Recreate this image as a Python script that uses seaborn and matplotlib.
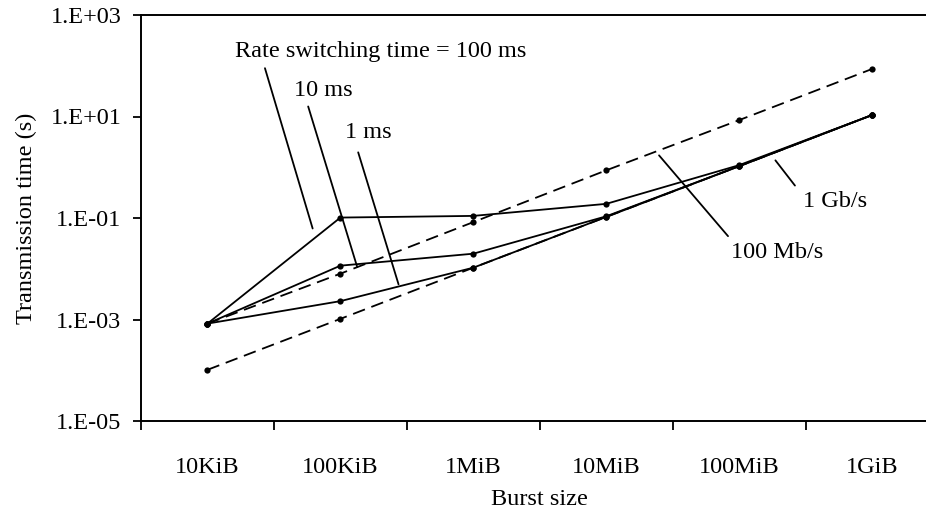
import numpy as np
import pandas as pd
import matplotlib
matplotlib.use("Agg")
import matplotlib.pyplot as plt
import seaborn as sns
from matplotlib.ticker import FixedLocator, FixedFormatter, NullFormatter

# ---------------- data ----------------
categories = ["10KiB", "100KiB", "1MiB", "10MiB", "100MiB", "1GiB"]
t_switch_100ms = [8.3e-4, 0.102, 0.110, 0.19, 1.10, 10.7]
t_switch_10ms = [8.3e-4, 0.0115, 0.0198, 0.108, 1.05, 10.7]
t_switch_1ms = [8.3e-4, 0.0023, 0.0105, 0.105, 1.05, 10.7]
t_100mbps = [8.3e-4, 0.0080, 0.083, 0.87, 8.5, 86.5]
t_1gbps = [1.02e-4, 1.03e-3, 0.0105, 0.105, 1.05, 10.7]
ytick_vals = [1e-5, 1e-3, 1e-1, 1e1, 1e3]
ytick_labels = ["1.E-05", "1.E-03", "1.E-01", "1.E+01", "1.E+03"]

series = {
    "100 ms": t_switch_100ms,
    "10 ms": t_switch_10ms,
    "1 ms": t_switch_1ms,
    "100 Mb/s": t_100mbps,
    "1 Gb/s": t_1gbps,
}
rows = []
for name, vals in series.items():
    for i, v in enumerate(vals):
        rows.append({"series": name, "pos": i, "time": v})
df = pd.DataFrame(rows)

# ---------------- style ----------------
sns.set_theme(style="ticks")
plt.rcParams["font.family"] = ["Liberation Serif", "DejaVu Serif"]
plt.rcParams.update({
    "text.color": "black", "axes.labelcolor": "black",
    "xtick.color": "black", "ytick.color": "black",
    "axes.edgecolor": "black", "font.size": 17.5,
})
FS = 17.5

fig = plt.figure(figsize=(9.26, 5.16), dpi=100)
ax = fig.add_axes([141 / 926, 95 / 516, 797.6 / 926, 406 / 516])
ax.set_yscale("log")

palette = {k: "black" for k in series}
dashes = {"100 ms": "", "10 ms": "", "1 ms": "",
          "100 Mb/s": (7, 3.8), "1 Gb/s": (7, 3.8)}
markers = {k: "o" for k in series}
sns.lineplot(data=df, x="pos", y="time", hue="series", style="series",
             palette=palette, dashes=dashes, markers=markers,
             markersize=4.5, markeredgewidth=0, linewidth=1.3,
             estimator=None, sort=False, legend=False, ax=ax)

ax.set_xlim(-0.5, len(categories) - 0.5)
ax.set_ylim(ytick_vals[0], ytick_vals[-1])

# x ticks: marks at category boundaries, labels at centers
ax.xaxis.set_major_locator(FixedLocator(np.arange(len(categories) + 1) - 0.5))
ax.xaxis.set_major_formatter(NullFormatter())
ax.xaxis.set_minor_locator(FixedLocator(np.arange(len(categories))))
ax.xaxis.set_minor_formatter(FixedFormatter(categories))
ax.tick_params(axis="x", which="major", length=6.5, width=1.3, direction="out")
ax.tick_params(axis="x", which="minor", length=0, pad=26, labelsize=FS)

ax.yaxis.set_major_locator(FixedLocator(ytick_vals))
ax.yaxis.set_major_formatter(FixedFormatter(ytick_labels))
ax.yaxis.set_minor_locator(FixedLocator([]))
ax.tick_params(axis="y", which="major", length=6, width=1.3, direction="out",
               pad=8, labelsize=FS)

for side in ["left", "bottom", "top"]:
    ax.spines[side].set_linewidth(1.4)
    ax.spines[side].set_color("black")
ax.spines["right"].set_visible(False)

ax.set_xlabel("Burst size", fontsize=FS, labelpad=8)
ax.set_ylabel("Transmission time (s)", fontsize=FS, labelpad=10)

# ---------------- annotations ----------------
leaders = [
    ((0.1554, 0.869), (0.2152, 0.4742)),
    ((0.2096, 0.7747), (0.2711, 0.3791)),
    ((0.2723, 0.6617), (0.3229, 0.3366)),
    ((0.7954, 0.642), (0.8199, 0.5799)),
    ((0.6495, 0.6543), (0.7360, 0.4553)),
]
for (x1, y1), (x2, y2) in leaders:
    ax.plot([x1, x2], [y1, y2], transform=ax.transAxes, color="black",
            lw=1.3, clip_on=False)

labels = [
    ("Rate switching time = 100 ms", 0.1178, 0.9098),
    ("10 ms", 0.1917, 0.814),
    ("1 ms", 0.2556, 0.7108),
    ("1 Gb/s", 0.8296, 0.5413),
    ("100 Mb/s", 0.7402, 0.4145),
]
for txt, x, y in labels:
    ax.text(x, y, txt, transform=ax.transAxes, ha="left", va="center",
            fontsize=FS)

fig.savefig("out.png", dpi=100)
